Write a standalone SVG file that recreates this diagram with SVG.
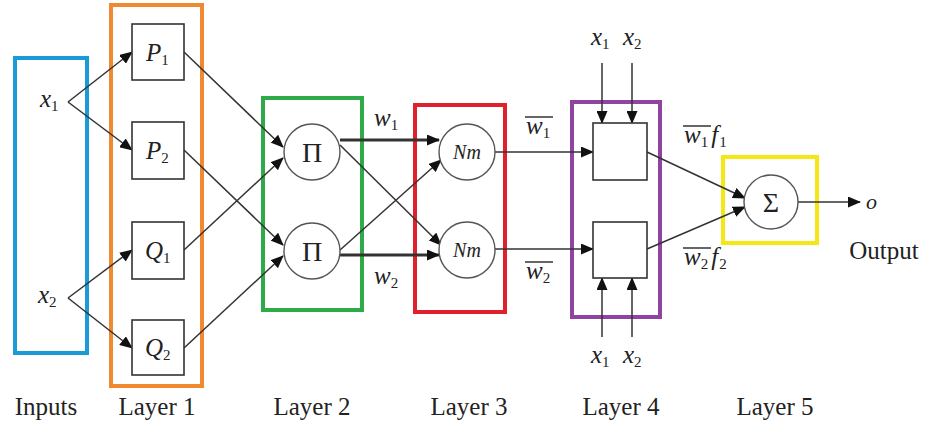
<svg xmlns="http://www.w3.org/2000/svg" width="925" height="427" viewBox="0 0 925 427" font-family="Liberation Serif, DejaVu Serif, serif">
<defs>
<marker id="ah" markerUnits="userSpaceOnUse" markerWidth="13" markerHeight="11" refX="12" refY="5.5" orient="auto"><path d="M0,0 L13,5.5 L0,11 z" fill="#111"/></marker>
<style>
.lay{fill:none;stroke-width:4}
.box{fill:#fff;stroke:#333;stroke-width:1.6}
.circ{fill:#fff;stroke:#555;stroke-width:1.4}
.ar{fill:none;stroke:#333;stroke-width:1.5;marker-end:url(#ah)}
.thk{fill:none;stroke:#333;stroke-width:3;marker-end:url(#ah)}
text{font-family:"Liberation Serif",serif}
.t{fill:#222}
.it{font-style:italic}
.lbl{font-size:25px;text-anchor:middle}
.sub{font-size:15px;font-style:normal}
.ov{stroke:#333;stroke-width:1.5}
</style>
</defs>
<rect width="925" height="427" fill="#fff"/>

<g id="layers">
<rect class="lay" x="15" y="58" width="72" height="295" stroke="#1a9ad6"/>
<rect class="lay" x="111" y="5" width="91" height="381" stroke="#f08a30"/>
<rect class="lay" x="263" y="98" width="99" height="212" stroke="#2eaa48"/>
<rect class="lay" x="415" y="105" width="90" height="207" stroke="#e0202a"/>
<rect class="lay" x="572" y="102" width="88" height="215" stroke="#8e44a0"/>
<rect class="lay" x="723" y="157" width="94" height="86" stroke="#f5e614"/>
</g>

<g id="connectors">
<path class="ar" d="M68,102 L132,52"/>
<path class="ar" d="M68,102 L132,150"/>
<path class="ar" d="M68,298 L132,250"/>
<path class="ar" d="M68,298 L132,348"/>
<path class="ar" d="M184,52 L283,147"/>
<path class="ar" d="M184,250 L283,158"/>
<path class="ar" d="M184,150 L283,245"/>
<path class="ar" d="M184,348 L283,256"/>
<path class="thk" d="M340,140 L439,140"/>
<path class="thk" d="M340,255 L439,255"/>
<path class="ar" d="M340,145 L441,245"/>
<path class="ar" d="M340,250 L441,160"/>
<path class="ar" d="M495,152 L593,152"/>
<path class="ar" d="M495,249 L593,249"/>
<path class="ar" d="M602,63 L602,123"/>
<path class="ar" d="M632,63 L632,123"/>
<path class="ar" d="M602,337 L602,278"/>
<path class="ar" d="M632,337 L632,278"/>
<path class="ar" d="M647,152 L745,198"/>
<path class="ar" d="M647,249 L745,207"/>
<path class="ar" d="M797,202 L860,202"/>
</g>

<g id="inputs">
<text class="t it" x="40" y="107" font-size="25">x<tspan class="sub" dy="4">1</tspan></text>
<text class="t it" x="38" y="303" font-size="25">x<tspan class="sub" dy="4">2</tspan></text>
</g>

<g id="P1"><rect class="box" x="132" y="24" width="52" height="56"/><text class="t it" x="146" y="61" font-size="25">P<tspan class="sub" dy="4">1</tspan></text></g>
<g id="P2"><rect class="box" x="132" y="122" width="52" height="57"/><text class="t it" x="146" y="159" font-size="25">P<tspan class="sub" dy="4">2</tspan></text></g>
<g id="Q1"><rect class="box" x="132" y="222" width="52" height="57"/><text class="t it" x="145" y="259" font-size="25">Q<tspan class="sub" dy="4">1</tspan></text></g>
<g id="Q2"><rect class="box" x="132" y="320" width="52" height="55"/><text class="t it" x="145" y="356" font-size="25">Q<tspan class="sub" dy="4">2</tspan></text></g>

<g id="Pi1"><circle class="circ" cx="312" cy="152" r="28"/><text class="t" x="312" y="162" font-size="28" text-anchor="middle">Π</text></g>
<g id="Pi2"><circle class="circ" cx="312" cy="251" r="28"/><text class="t" x="312" y="261" font-size="28" text-anchor="middle">Π</text></g>

<g id="w-labels">
<text class="t it" x="374" y="126" font-size="25">w<tspan class="sub" dy="4">1</tspan></text>
<text class="t it" x="374" y="284" font-size="25">w<tspan class="sub" dy="4">2</tspan></text>
</g>

<g id="Nm1"><circle class="circ" cx="467" cy="152" r="28"/><text class="t it" x="467" y="159" font-size="20" text-anchor="middle">Nm</text></g>
<g id="Nm2"><circle class="circ" cx="467" cy="250" r="28"/><text class="t it" x="467" y="257" font-size="20" text-anchor="middle">Nm</text></g>

<g id="wbar-labels">
<line class="ov" x1="525" y1="117" x2="553" y2="117"/>
<text class="t it" x="526" y="134" font-size="25">w<tspan class="sub" dy="4">1</tspan></text>
<line class="ov" x1="525" y1="262" x2="553" y2="262"/>
<text class="t it" x="526" y="279" font-size="25">w<tspan class="sub" dy="4">2</tspan></text>
</g>

<g id="L4a"><rect class="box" x="593" y="123" width="54" height="57"/></g>
<g id="L4b"><rect class="box" x="593" y="222" width="54" height="56"/></g>
<g id="L4-inputs">
<text class="t it" x="591" y="45" font-size="25">x<tspan class="sub" dy="4">1</tspan></text>
<text class="t it" x="623" y="45" font-size="25">x<tspan class="sub" dy="4">2</tspan></text>
<text class="t it" x="591" y="363" font-size="25">x<tspan class="sub" dy="4">1</tspan></text>
<text class="t it" x="623" y="363" font-size="25">x<tspan class="sub" dy="4">2</tspan></text>
</g>

<g id="wf-labels">
<line class="ov" x1="683" y1="126" x2="711" y2="126"/>
<text class="t it" x="684" y="143" font-size="25">w<tspan class="sub" dy="4">1</tspan><tspan dx="3" dy="-4">f</tspan><tspan class="sub" dx="1" dy="4">1</tspan></text>
<line class="ov" x1="683" y1="248" x2="711" y2="248"/>
<text class="t it" x="684" y="265" font-size="25">w<tspan class="sub" dy="4">2</tspan><tspan dx="3" dy="-4">f</tspan><tspan class="sub" dx="1" dy="4">2</tspan></text>
</g>

<g id="Sigma"><circle class="circ" cx="771" cy="202" r="27"/><text class="t" x="771" y="212" font-size="28" text-anchor="middle">Σ</text></g>

<g id="output">
<text class="t it" x="866" y="209" font-size="22">o</text>
<text class="t" x="884" y="259" font-size="25" text-anchor="middle">Output</text>
</g>

<g id="labels">
<text class="t lbl" x="46" y="415">Inputs</text>
<text class="t lbl" x="157" y="415">Layer 1</text>
<text class="t lbl" x="312" y="415">Layer 2</text>
<text class="t lbl" x="469" y="415">Layer 3</text>
<text class="t lbl" x="621" y="415">Layer 4</text>
<text class="t lbl" x="775" y="415">Layer 5</text>
</g>
</svg>
